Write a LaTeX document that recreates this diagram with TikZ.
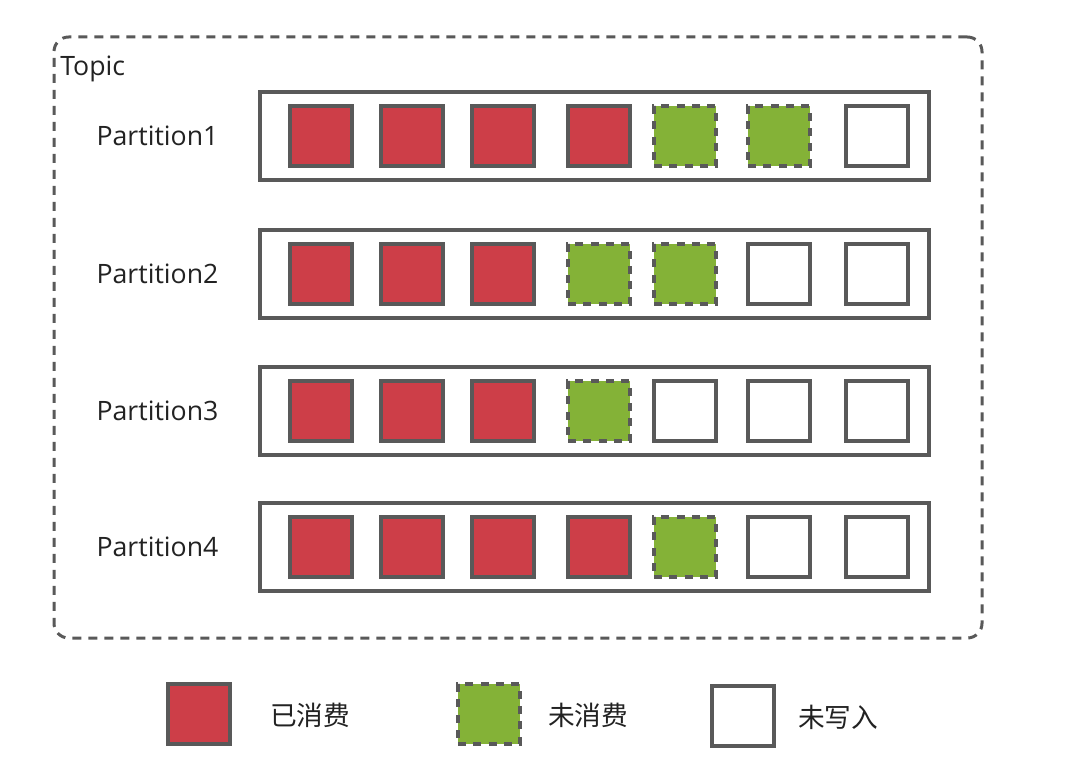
\documentclass[tikz,border=0pt]{standalone}
\usepackage{fontspec}
\setmainfont{Open Sans}
\newfontfamily\cjk{Noto Sans CJK SC}
\definecolor{edgec}{HTML}{595959}
\definecolor{redc}{HTML}{CD3E48}
\definecolor{greenc}{HTML}{84B237}
\definecolor{textc}{HTML}{222222}
\tikzset{
  cell/.style={draw=edgec, line width=3pt, minimum width=46.5pt, minimum height=45pt, inner sep=0pt},
  cdone/.style={cell, fill=redc},
  ctodo/.style={cell, fill=greenc, dash pattern=on 6pt off 5.5pt},
  cempty/.style={cell, fill=white},
  rowbox/.style={draw=edgec, line width=3pt, minimum width=501.75pt, minimum height=66pt, inner sep=0pt},
  frame/.style={draw=edgec, line width=2.25pt, dash pattern=on 6.75pt off 5.25pt, rounded corners=11pt, minimum width=696pt, minimum height=450.75pt, inner sep=0pt},
  lab/.style={text=textc, font=\fontsize{20pt}{24pt}\selectfont, inner sep=0pt}
}
\begin{document}
\begin{tikzpicture}[x=0.75pt,y=-0.75pt]
\useasboundingbox[fill=white] (0,0) rectangle (1068,780);
\node[frame] (topic) at (518,337.5) {};
\node[lab, anchor=west] (topiclabel) at (60,68.5) {Topic};
\foreach \r/\yy/\st in {1/136/{cdone,cdone,cdone,cdone,ctodo,ctodo,cempty},
                        2/274/{cdone,cdone,cdone,ctodo,ctodo,cempty,cempty},
                        3/411/{cdone,cdone,cdone,ctodo,cempty,cempty,cempty},
                        4/547/{cdone,cdone,cdone,cdone,ctodo,cempty,cempty}} {
  \node[rowbox] (row\r) at (594.5,\yy) {};
  \node[lab] (plab\r) at (157.5,\yy) {Partition\r};
  \foreach \s [count=\i] in \st {
    \pgfmathsetmacro\xx{{321,412,503,599,685,779,877}[\i-1]}
    \node[\s] (s\r\i) at (\xx,\yy) {};
  }
}
\node[cdone] (lg1) at (199,714) {};
\node[lab] (lt1) at (310,715) {\cjk 已消费};
\node[ctodo] (lg2) at (489,714) {};
\node[lab] (lt2) at (588,715) {\cjk 未消费};
\node[cempty] (lg3) at (743,716) {};
\node[lab] (lt3) at (838,717) {\cjk 未写入};
\end{tikzpicture}
\end{document}
